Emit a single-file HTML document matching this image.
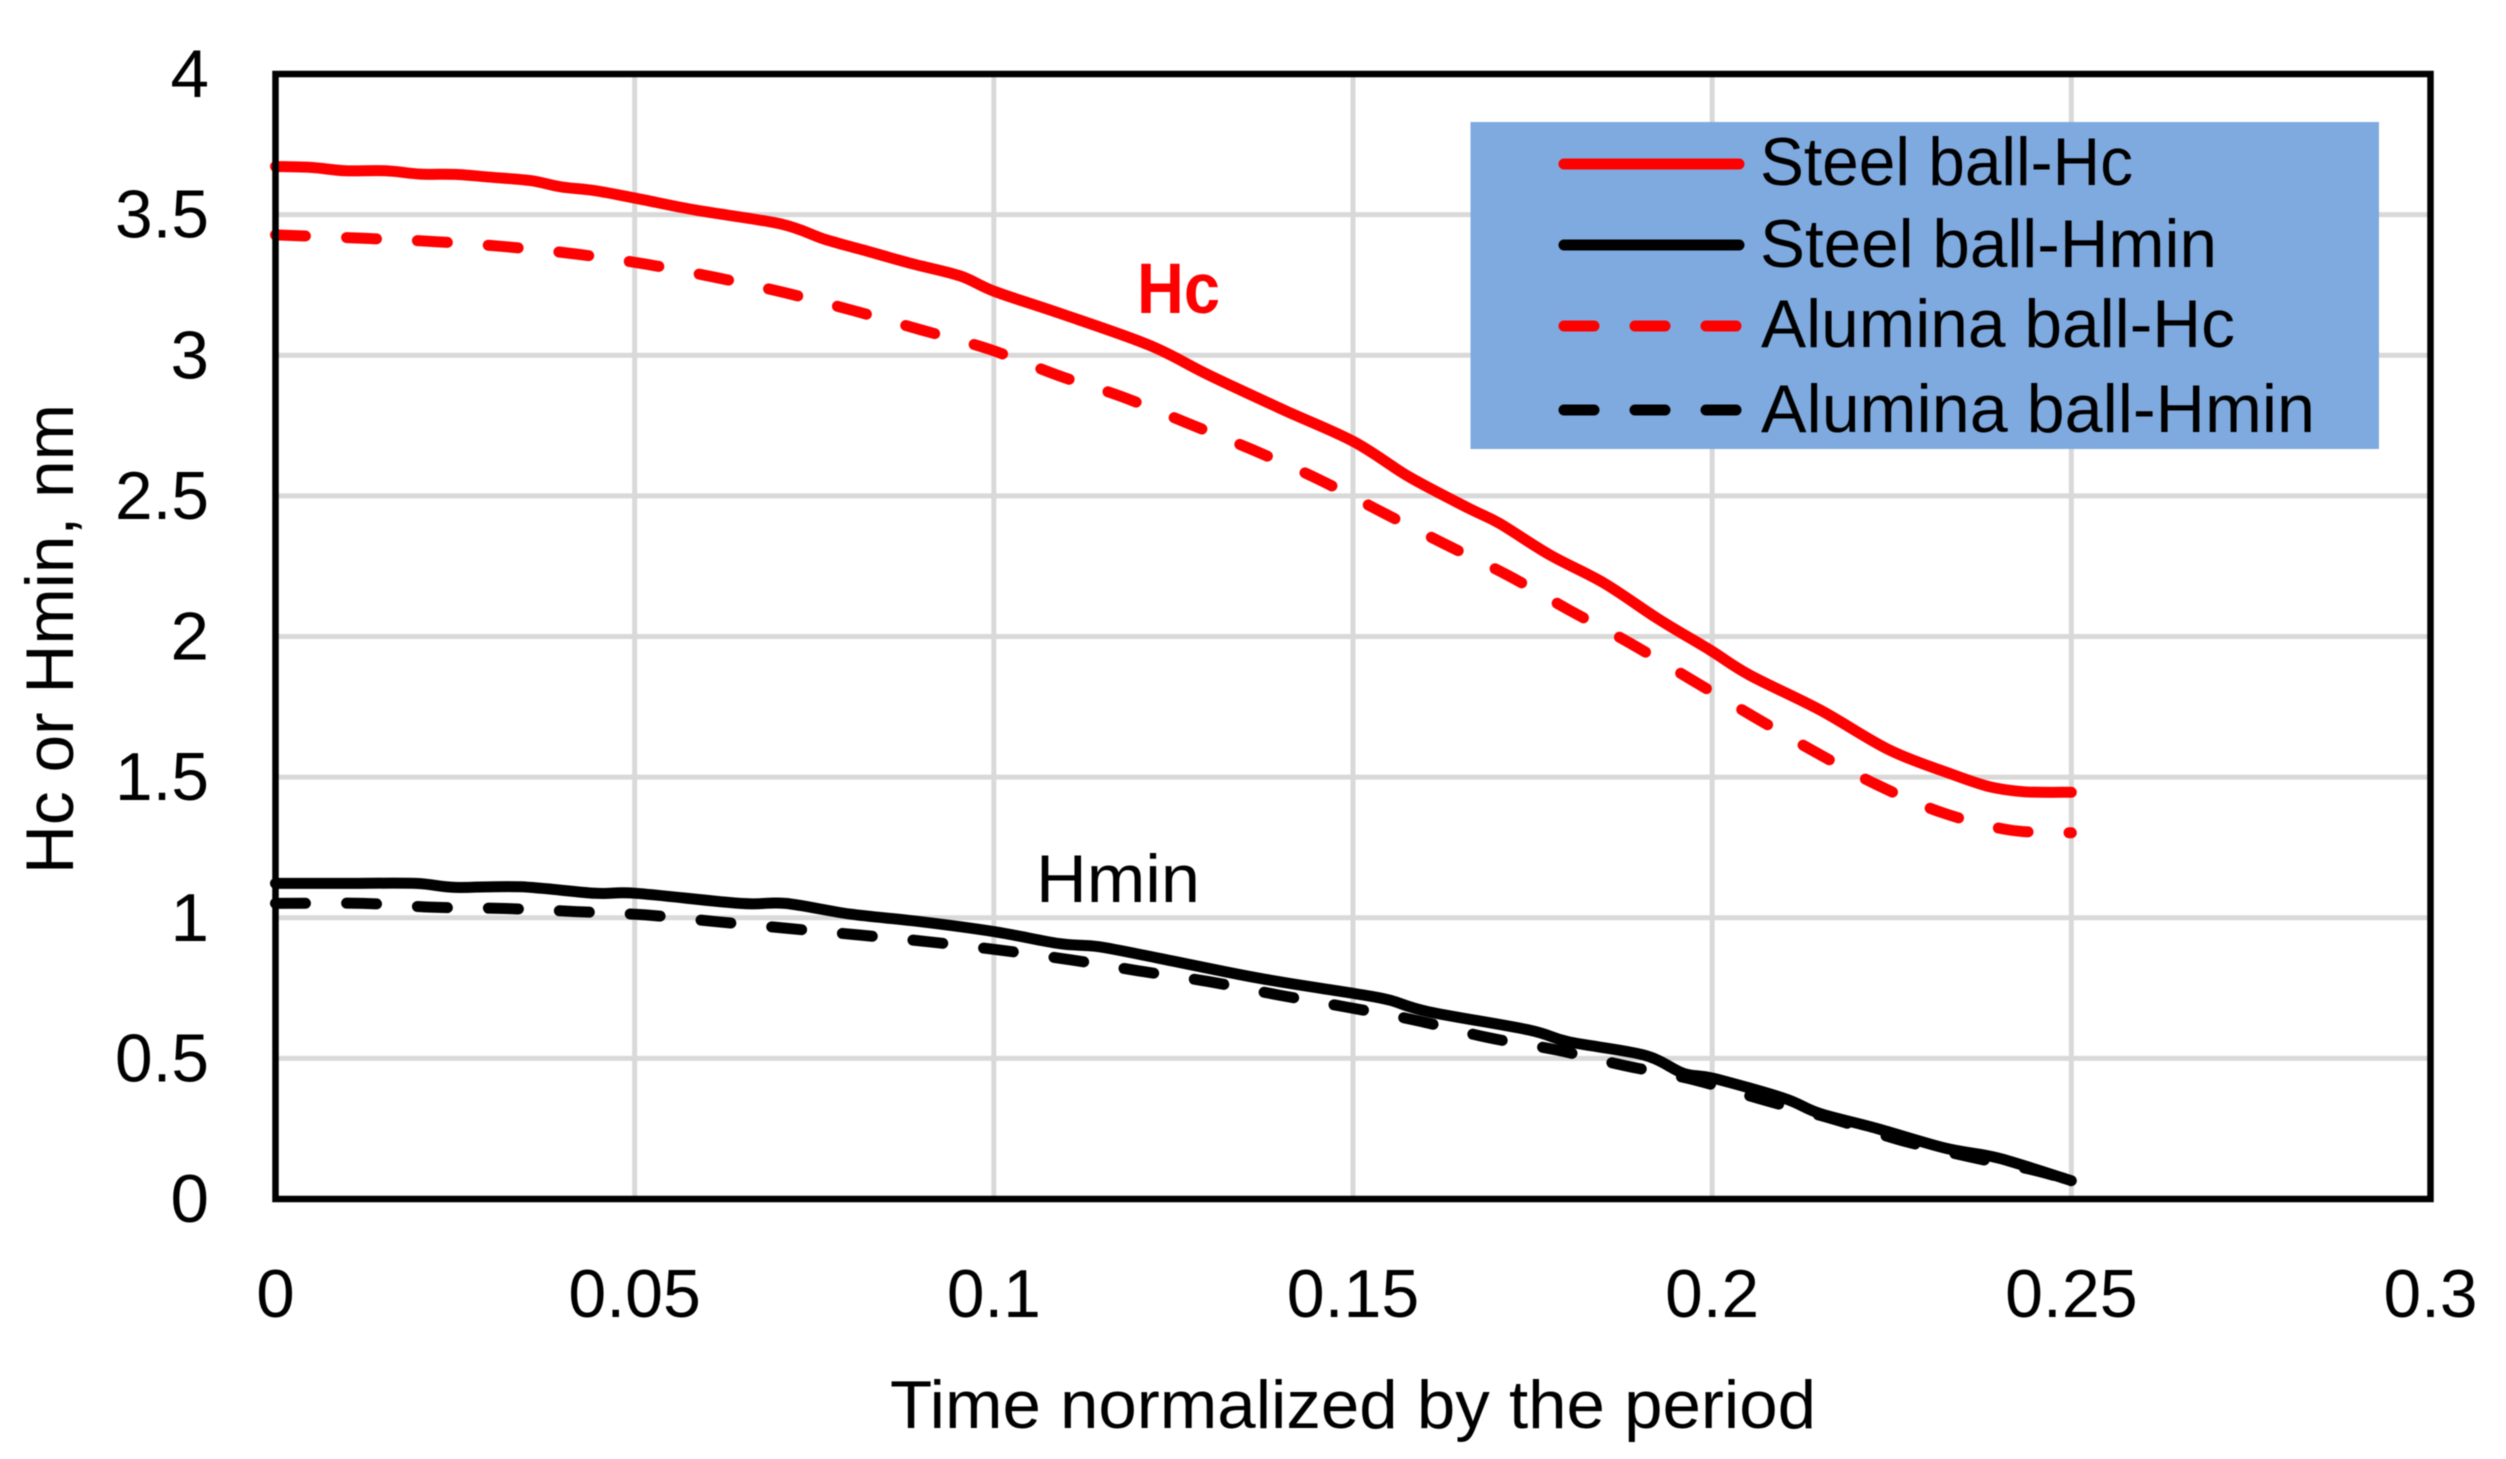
<!DOCTYPE html>
<html lang="en">
<head>
<meta charset="utf-8">
<title>Hc and Hmin versus normalized time</title>
<style>
html,body{margin:0;padding:0;background:#fff;width:2506px;height:1459px;overflow:hidden}
svg{display:block;filter:blur(0.6px)}
text{font-family:"Liberation Sans",sans-serif;fill:#000}
</style>
</head>
<body>
<svg id="chart" width="2506" height="1459" viewBox="0 0 2506 1459" xmlns="http://www.w3.org/2000/svg">
  <rect x="0" y="0" width="2506" height="1459" fill="#ffffff"/>
  <g id="grid"></g>
  <g id="series"></g>
  <rect x="275.5" y="74" width="2155" height="1125" fill="none" stroke="#000" stroke-width="6.5"/>
  <g id="ticks"></g>

  <text x="890" y="1428" font-size="68" textLength="926" lengthAdjust="spacingAndGlyphs">Time normalized by the period</text>
  <text transform="translate(73 874) rotate(-90)" x="0" y="0" font-size="68" textLength="470" lengthAdjust="spacingAndGlyphs">Hc or Hmin, nm</text>

  <text x="1137" y="313" font-size="71" font-weight="bold" style="fill:#ff0000" textLength="83" lengthAdjust="spacingAndGlyphs">Hc</text>
  <text x="1036" y="902" font-size="68" textLength="164" lengthAdjust="spacingAndGlyphs">Hmin</text>

  <g>
    <rect x="1470.5" y="122" width="908.5" height="327" fill="#7faadf"/>
    <line x1="1564" y1="164" x2="1739" y2="164" stroke="#ff0000" stroke-width="11" stroke-linecap="round"/>
    <text x="1760" y="185" font-size="68" textLength="373" lengthAdjust="spacingAndGlyphs">Steel ball-Hc</text>
    <line x1="1564" y1="245" x2="1739" y2="245" stroke="#000000" stroke-width="11" stroke-linecap="round"/>
    <text x="1760" y="267" font-size="68" textLength="457" lengthAdjust="spacingAndGlyphs">Steel ball-Hmin</text>
    <line x1="1564" y1="326" x2="1739" y2="326" stroke="#ff0000" stroke-width="11" stroke-linecap="round" stroke-dasharray="30 41"/>
    <text x="1761" y="347" font-size="68" textLength="474" lengthAdjust="spacingAndGlyphs">Alumina ball-Hc</text>
    <line x1="1564" y1="410" x2="1739" y2="410" stroke="#000000" stroke-width="11" stroke-linecap="round" stroke-dasharray="30 41"/>
    <text x="1761" y="432" font-size="68" textLength="554" lengthAdjust="spacingAndGlyphs">Alumina ball-Hmin</text>
  </g>
</svg>
<script>
const xTickValues = [0, 0.05, 0.1, 0.15, 0.2, 0.25, 0.3];
const xTickLabels = ["0", "0.05", "0.1", "0.15", "0.2", "0.25", "0.3"];
const yTickValues = [0, 0.5, 1, 1.5, 2, 2.5, 3, 3.5, 4];
const yTickLabels = ["0", "0.5", "1", "1.5", "2", "2.5", "3", "3.5", "4"];

const steelHcTime = [0, .0049, .0097, .0153, .0202, .025, .03, .0355, .0397, .0445, .0502, .0585, .0703, .0765, .0821, .0884, .0953, .1002, .1091, .1216, .1299, .1404, .1501, .1578, .1661, .1704, .1774, .185, .1927, .1997, .2052, .215, .2247, .2331, .2386, .2435, .25];
const steelHcValues = [3.671, 3.668, 3.656, 3.656, 3.644, 3.643, 3.633, 3.621, 3.599, 3.585, 3.558, 3.516, 3.467, 3.412, 3.372, 3.327, 3.282, 3.226, 3.15, 3.036, 2.93, 2.805, 2.693, 2.568, 2.456, 2.402, 2.29, 2.189, 2.059, 1.952, 1.863, 1.739, 1.596, 1.513, 1.466, 1.448, 1.446];

const steelHminTime = [0, .0097, .0195, .025, .0341, .0445, .0502, .0647, .071, .08, .0898, .1002, .1091, .1146, .123, .1369, .1501, .155, .1605, .1745, .18, .1905, .196, .2002, .21, .2149, .2229, .2326, .2399, .25];
const steelHminValues = [1.122, 1.122, 1.122, 1.108, 1.11, 1.087, 1.087, 1.051, 1.051, 1.013, .986, .95, .908, .897, .856, .785, .731, .708, .666, .601, .559, .512, .447, .429, .358, .305, .251, .18, .145, .065];

const aluminaHcTime = [0, .0122, .0221, .032, .0418, .0515, .0612, .0708, .0804, .0899, .0994, .1091, .1178, .127, .1361, .1452, .1539, .1626, .1716, .1801, .1886, .1972, .2058, .2143, .223, .232, .2414, .25];
const aluminaHcValues = [3.428, 3.416, 3.404, 3.386, 3.36, 3.324, 3.277, 3.223, 3.159, 3.09, 3.021, 2.927, 2.853, 2.758, 2.663, 2.559, 2.444, 2.331, 2.217, 2.094, 1.976, 1.845, 1.715, 1.59, 1.472, 1.374, 1.312, 1.302];

const aluminaHminTime = [0, .0122, .0221, .032, .0418, .0515, .0614, .0713, .0811, .0908, .1008, .1108, .1202, .1299, .1397, .1494, .159, .1686, .1783, .1879, .1976, .2072, .2173, .2261, .2358, .2447, .25];
const aluminaHminValues = [1.051, 1.051, 1.037, 1.033, 1.022, 1.01, .986, .962, .939, .915, .885, .85, .811, .773, .725, .681, .634, .575, .53, .474, .423, .352, .281, .21, .15, .103, .065];

const SVG_NS = "http://www.w3.org/2000/svg";
const plotLeft = 275.5, plotRight = 2430.5, plotTop = 74, plotBottom = 1199;
const xMax = 0.3, yMax = 4;
function xScale(t) { return plotLeft + (t / xMax) * (plotRight - plotLeft); }
function yScale(v) { return plotBottom - (v / yMax) * (plotBottom - plotTop); }
function labelWidth(s) {
  let w = 0;
  for (const c of s) { w += c === "." ? 17 : 38.5; }
  return w;
}

const gridGroup = document.getElementById("grid");
const tickGroup = document.getElementById("ticks");
const seriesGroup = document.getElementById("series");

xTickValues.forEach(function (tick, i) {
  if (tick > 0 && tick < xMax) {
    const line = document.createElementNS(SVG_NS, "line");
    
    
    line.setAttribute("x1", xScale(tick));
    line.setAttribute("x2", xScale(tick));
    line.setAttribute("y1", plotTop);
    line.setAttribute("y2", plotBottom);
    line.setAttribute("stroke", "#d9d9d9");
    line.setAttribute("stroke-width", "5");
    gridGroup.appendChild(line);
  }
  const label = document.createElementNS(SVG_NS, "text");
  
  
  label.setAttribute("x", xScale(tick) - labelWidth(xTickLabels[i]) / 2);
  label.setAttribute("y", 1317);
  label.setAttribute("font-size", "68");
  label.setAttribute("textLength", labelWidth(xTickLabels[i]));
  label.setAttribute("lengthAdjust", "spacingAndGlyphs");
  label.textContent = xTickLabels[i];
  tickGroup.appendChild(label);
});

yTickValues.forEach(function (tick, i) {
  if (tick > 0 && tick < yMax) {
    const line = document.createElementNS(SVG_NS, "line");
    
    
    line.setAttribute("x1", plotLeft);
    line.setAttribute("x2", plotRight);
    line.setAttribute("y1", yScale(tick));
    line.setAttribute("y2", yScale(tick));
    line.setAttribute("stroke", "#d9d9d9");
    line.setAttribute("stroke-width", "5");
    gridGroup.appendChild(line);
  }
  const label = document.createElementNS(SVG_NS, "text");
  
  
  label.setAttribute("x", 209 - labelWidth(yTickLabels[i]));
  label.setAttribute("y", yScale(tick) + 23);
  label.setAttribute("font-size", "68");
  label.setAttribute("textLength", labelWidth(yTickLabels[i]));
  label.setAttribute("lengthAdjust", "spacingAndGlyphs");
  label.textContent = yTickLabels[i];
  tickGroup.appendChild(label);
});

function smoothPath(times, values) {
  const pts = times.map(function (t, i) {
    return [xScale(t), yScale(values[i])];
  });
  let d = "M" + pts[0][0].toFixed(1) + " " + pts[0][1].toFixed(1);
  for (let i = 0; i < pts.length - 1; i++) {
    const p0 = pts[Math.max(i - 1, 0)];
    const p1 = pts[i];
    const p2 = pts[i + 1];
    const p3 = pts[Math.min(i + 2, pts.length - 1)];
    const c1x = p1[0] + (p2[0] - p0[0]) / 6;
    const c1y = p1[1] + (p2[1] - p0[1]) / 6;
    const c2x = p2[0] - (p3[0] - p1[0]) / 6;
    const c2y = p2[1] - (p3[1] - p1[1]) / 6;
    d += "C" + c1x.toFixed(1) + " " + c1y.toFixed(1) + " " + c2x.toFixed(1) + " " + c2y.toFixed(1) + " " + p2[0].toFixed(1) + " " + p2[1].toFixed(1);
  }
  return d;
}

const aluminaHcLine = document.createElementNS(SVG_NS, "path");


aluminaHcLine.setAttribute("d", smoothPath(aluminaHcTime, aluminaHcValues));
aluminaHcLine.setAttribute("fill", "none");
aluminaHcLine.setAttribute("stroke", "#ff0000");
aluminaHcLine.setAttribute("stroke-width", "11");
aluminaHcLine.setAttribute("stroke-linecap", "round");
aluminaHcLine.setAttribute("stroke-linejoin", "round");
aluminaHcLine.setAttribute("stroke-dasharray", "30 41");
seriesGroup.appendChild(aluminaHcLine);

const steelHcLine = document.createElementNS(SVG_NS, "path");


steelHcLine.setAttribute("d", smoothPath(steelHcTime, steelHcValues));
steelHcLine.setAttribute("fill", "none");
steelHcLine.setAttribute("stroke", "#ff0000");
steelHcLine.setAttribute("stroke-width", "11");
steelHcLine.setAttribute("stroke-linecap", "round");
steelHcLine.setAttribute("stroke-linejoin", "round");
seriesGroup.appendChild(steelHcLine);

const aluminaHminLine = document.createElementNS(SVG_NS, "path");


aluminaHminLine.setAttribute("d", smoothPath(aluminaHminTime, aluminaHminValues));
aluminaHminLine.setAttribute("fill", "none");
aluminaHminLine.setAttribute("stroke", "#000000");
aluminaHminLine.setAttribute("stroke-width", "11");
aluminaHminLine.setAttribute("stroke-linecap", "round");
aluminaHminLine.setAttribute("stroke-linejoin", "round");
aluminaHminLine.setAttribute("stroke-dasharray", "30 41");
seriesGroup.appendChild(aluminaHminLine);

const steelHminLine = document.createElementNS(SVG_NS, "path");


steelHminLine.setAttribute("d", smoothPath(steelHminTime, steelHminValues));
steelHminLine.setAttribute("fill", "none");
steelHminLine.setAttribute("stroke", "#000000");
steelHminLine.setAttribute("stroke-width", "11");
steelHminLine.setAttribute("stroke-linecap", "round");
steelHminLine.setAttribute("stroke-linejoin", "round");
seriesGroup.appendChild(steelHminLine);
</script>
</body>
</html>
